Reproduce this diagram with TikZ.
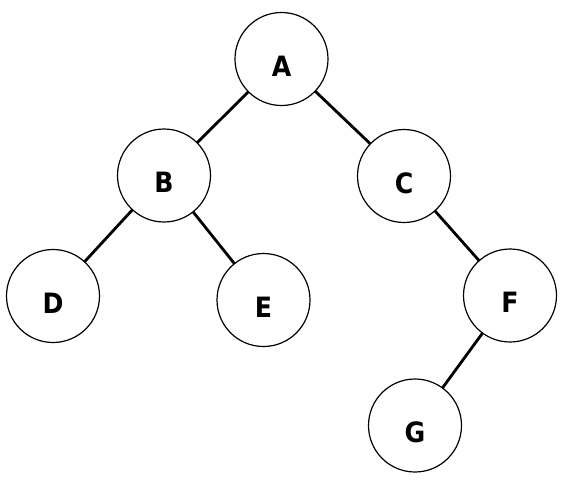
\documentclass[tikz,border=0pt]{standalone}
\usepackage{fontspec}
\newfontfamily\lblfont{DejaVu Sans Condensed Bold}
\begin{document}
\begin{tikzpicture}[x=1pt,y=-1pt,
  treenode/.style={circle,draw=black,line width=1.2pt,minimum size=93pt,inner sep=0pt,outer sep=0pt,
    label={[font=\lblfont\fontsize{28}{28}\selectfont,yshift=-7pt]center:#1}},
  treeedge/.style={line width=2.8pt,black}]
\useasboundingbox (0,0) rectangle (570,496);
\node[treenode=A] (A) at (281.5,59) {};
\node[treenode=B] (B) at (164,175.5) {};
\node[treenode=C] (C) at (404,176) {};
\node[treenode=D] (D) at (53,296) {};
\node[treenode=E] (E) at (263.5,300) {};
\node[treenode=F] (F) at (510,295.5) {};
\node[treenode=G] (G) at (415,425.5) {};
\draw[treeedge] (A) -- (B);
\draw[treeedge] (A) -- (C);
\draw[treeedge] (B) -- (D);
\draw[treeedge] (B) -- (E);
\draw[treeedge] (C) -- (F);
\draw[treeedge] (F) -- (G);
\end{tikzpicture}
\end{document}
